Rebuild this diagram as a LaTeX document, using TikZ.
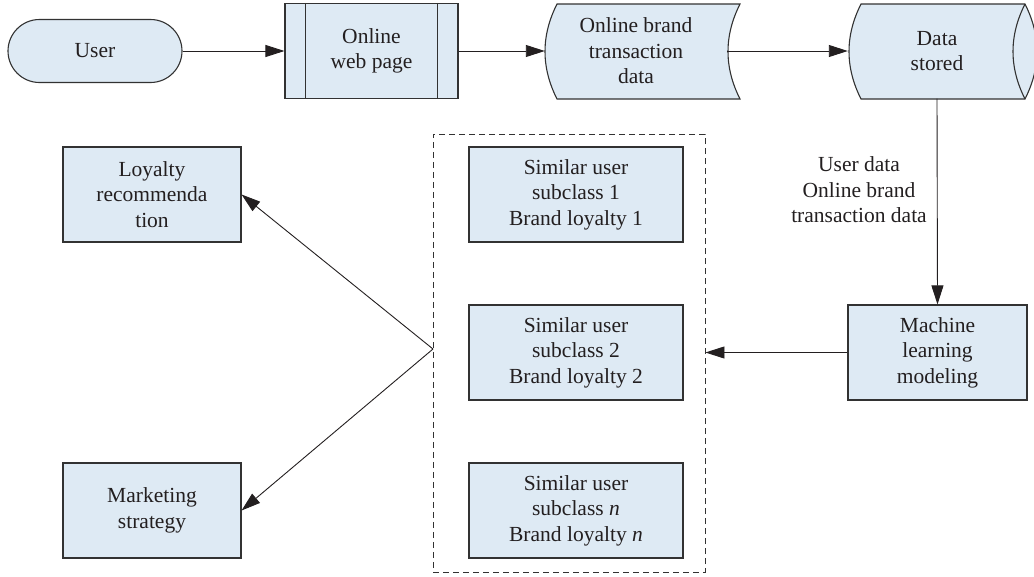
\documentclass[tikz,border=0pt]{standalone}
\usepackage{fontspec}
\setmainfont{Liberation Serif}
\usetikzlibrary{arrows.meta}
\definecolor{boxfill}{RGB}{222,234,244}
\definecolor{boxline}{RGB}{50,50,50}
\definecolor{txt}{RGB}{35,31,32}
\begin{document}
\begin{tikzpicture}[x=1pt,y=-1pt,
  every node/.style={font=\fontsize{21.5}{25.5}\selectfont, text=txt, align=center, inner sep=0pt},
  boxstyle/.style={draw=boxline, line width=1.1pt, fill=boxfill, minimum height=95pt},
  plain/.style={draw=none, minimum height=95pt},
  conn/.style={draw=txt, line width=0.9pt, -{Triangle[length=19pt,width=12pt]}},
  shapeline/.style={draw=boxline, line width=1.1pt, fill=boxfill}]
\useasboundingbox (0,0) rectangle (1034,576);

% User terminal
\node[draw=boxline, line width=1.1pt, fill=boxfill, minimum width=174pt, minimum height=63pt, rounded corners=31.5pt] (user) at (95,51) {User};

% Online web page (predefined process)
\node[boxstyle, minimum width=173pt] (web) at (371.5,51) {Online\\web page};
\draw[boxline, line width=1.1pt] ([xshift=21pt]web.north west) -- ([xshift=21pt]web.south west);
\draw[boxline, line width=1.1pt] ([xshift=-21pt]web.north east) -- ([xshift=-21pt]web.south east);

% Online brand transaction data (stored data)
\path[shapeline] (557,4) -- (740,4) .. controls (724,35.7) and (724,67.3) .. (740,99)
  -- (557,99) .. controls (541,67.3) and (541,35.7) .. (557,4) -- cycle;
\node[plain, minimum width=182pt] (obtd) at (636,51) {Online brand\\transaction\\data};

% Data stored (horizontal cylinder)
\path[shapeline] (861,4) -- (1025,4) .. controls (1041,35.7) and (1041,67.3) .. (1025,99)
  -- (861,99) .. controls (845,67.3) and (845,35.7) .. (861,4) -- cycle;
\draw[boxline, line width=1.1pt] (1025,4) .. controls (1009,35.7) and (1009,67.3) .. (1025,99);
\node[plain, minimum width=178pt] (ds) at (937,51) {Data\\stored};

% Machine learning modeling
\node[boxstyle, minimum width=179pt] (ml) at (937.5,352.5) {Machine\\learning\\modeling};

% Label
\node (lbl) at (859,190) {User data\\Online brand\\transaction data};

% Dashed group
\node[draw=boxline, line width=0.9pt, dash pattern=on 6pt off 4pt, minimum width=272pt, minimum height=438pt] (grp) at (569,353) {};
\node[boxstyle, minimum width=214pt] (s1) at (576,194.5) {Similar user\\subclass 1\\Brand loyalty 1};
\node[boxstyle, minimum width=214pt] (s2) at (576,352.5) {Similar user\\subclass 2\\Brand loyalty 2};
\node[boxstyle, minimum width=214pt] (s3) at (576,510.5) {Similar user\\subclass \textit{n}\\Brand loyalty \textit{n}};

% Left outputs
\node[boxstyle, minimum width=178pt] (loy) at (152,194.5) {Loyalty\\recommenda\\tion};
\node[boxstyle, minimum width=178pt] (mkt) at (152,510.5) {Marketing\\strategy};

\coordinate (split) at (433,349);

% Connectors
\draw[conn] (user.east) -- (web.west);
\draw[conn] (web.east) -- (obtd.west);
\draw[conn] (obtd.east) -- (ds.west);
\draw[conn] (ds.south) -- (ml.north);
\draw[conn] (ml.west) -- (ml.west -| grp.east);
\draw[conn] (split) -- (loy.east);
\draw[conn] (split) -- (mkt.east);
\end{tikzpicture}
\end{document}
